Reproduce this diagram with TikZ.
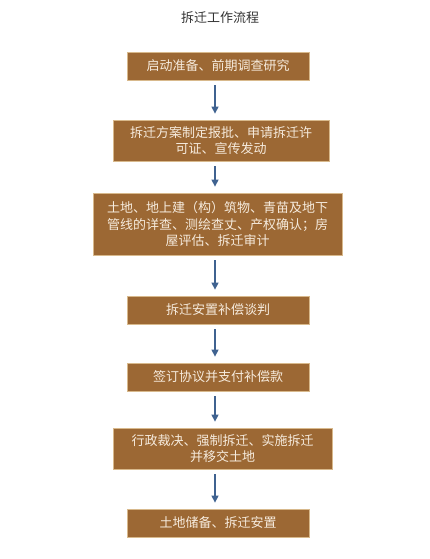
\documentclass[tikz,border=0pt]{standalone}
\usepackage{fontspec}
\setmainfont{Noto Sans CJK SC}
\usetikzlibrary{arrows.meta}
\definecolor{boxfill}{HTML}{9C6834}
\definecolor{boxedge}{HTML}{D8B98C}
\definecolor{boxtext}{HTML}{F6EBDD}
\definecolor{arrcol}{HTML}{3F6290}
\definecolor{titlecol}{HTML}{333333}
\begin{document}
\begin{tikzpicture}[x=1pt,y=-1pt,
  stepbox/.style={draw=boxedge,line width=0.8pt,fill=boxfill,text=boxtext,
    inner sep=0pt,align=center,font=\fontsize{13}{16.8}\selectfont},
  arr/.style={draw=arrcol,line width=1.3pt,-{Triangle[width=7pt,length=7pt]},
    shorten <=5pt,shorten >=6pt}]
\useasboundingbox (0,0) rectangle (429,559);
\fill[white] (0,0) rectangle (429,559);
\node[text=titlecol,font=\fontsize{13}{15}\selectfont] (title) at (220,18) {拆迁工作流程};
\node[stepbox,minimum width=182pt,minimum height=28pt] (b1) at (218,66) {启动准备、前期调查研究};
\node[stepbox,minimum width=216pt,minimum height=41pt] (b2) at (221,140.5) {拆迁方案制定报批、申请拆迁许\\可证、宣传发动};
\node[stepbox,minimum width=249pt,minimum height=62pt] (b3) at (217.5,224) {土地、地上建（构）筑物、青苗及地下\\管线的详查、测绘查丈、产权确认；房\\屋评估、拆迁审计};
\node[stepbox,minimum width=182pt,minimum height=28pt] (b4) at (218,310) {拆迁安置补偿谈判};
\node[stepbox,minimum width=182pt,minimum height=28pt] (b5) at (218,377) {签订协议并支付补偿款};
\node[stepbox,minimum width=219pt,minimum height=41pt] (b6) at (222.5,448.5) {行政裁决、强制拆迁、实施拆迁\\并移交土地};
\node[stepbox,minimum width=182pt,minimum height=28pt] (b7) at (218,523) {土地储备、拆迁安置};
\coordinate (ax) at (215,0);
\draw[arr] (b1.south -| ax) -- (b2.north -| ax);
\draw[arr] (b2.south -| ax) -- (b3.north -| ax);
\draw[arr] (b3.south -| ax) -- (b4.north -| ax);
\draw[arr] (b4.south -| ax) -- (b5.north -| ax);
\draw[arr] (b5.south -| ax) -- (b6.north -| ax);
\draw[arr] (b6.south -| ax) -- (b7.north -| ax);
\end{tikzpicture}
\end{document}
